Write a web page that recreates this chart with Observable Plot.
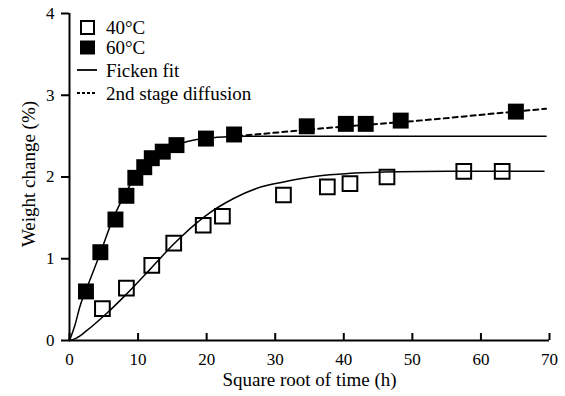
<!DOCTYPE html>
<html><head><meta charset="utf-8">
<script src="https://cdn.jsdelivr.net/npm/d3@7"></script>
<script src="https://cdn.jsdelivr.net/npm/@observablehq/plot@0.6"></script>
<style>
body{margin:0;background:#fff;}
#chart{position:relative;width:565px;height:396px;}
#chart svg text{font-family:"Liberation Serif","Times New Roman",Times,serif !important;}
</style></head><body><div id="chart"></div>
<script>
const x40 = [4.8, 8.3, 12.0, 15.2, 19.5, 22.3, 31.2, 37.6, 40.9, 46.3, 57.5, 63.1];
const y40 = [0.39, 0.64, 0.92, 1.19, 1.41, 1.52, 1.78, 1.88, 1.92, 2.00, 2.07, 2.07];
const x60 = [2.4, 4.5, 6.7, 8.3, 9.6, 10.9, 12.0, 13.6, 15.6, 19.9, 24.0, 34.6, 40.3, 43.2, 48.3, 65.1];
const y60 = [0.60, 1.08, 1.48, 1.77, 1.99, 2.12, 2.23, 2.31, 2.39, 2.47, 2.52, 2.62, 2.65, 2.65, 2.69, 2.80];
// Ficken fit curves
const fit40x = [0, 1, 2.5, 5.4, 8.35, 11.75, 15.2, 19.6, 24, 28, 31.2, 36, 41, 48, 55, 69.2];
const fit40y = [0, 0.03, 0.12, 0.33, 0.57, 0.87, 1.18, 1.51, 1.74, 1.88, 1.94, 2.01, 2.045, 2.065, 2.07, 2.07];
const fit60x = [0, 0.8, 1.5, 2.75, 4.45, 6.4, 8.1, 9.8, 12.2, 15.2, 18, 21.5, 25, 30, 40, 69.5];
const fit60y = [0, 0.19, 0.41, 0.69, 1.06, 1.50, 1.79, 2.03, 2.24, 2.38, 2.45, 2.485, 2.50, 2.50, 2.50, 2.50];
// 2nd stage diffusion (60°C)
const diffx = [24.5, 32.3, 36.2, 51.7, 62.4, 69.5];
const diffy = [2.50, 2.56, 2.59, 2.695, 2.78, 2.835];
// Ticks and labels
const xTicks = [0, 10, 20, 30, 40, 50, 60, 70];
const yTicks = [0, 1, 2, 3, 4];
const xLabel = "Square root of time (h)";
const yLabel = "Weight change (%)";
const legendLabels = ["40°C", "60°C", "Ficken fit", "2nd stage diffusion"];

const zip = (xs, ys) => xs.map((x, i) => ({x, y: ys[i]}));
const d40 = zip(x40, y40), d60 = zip(x60, y60);
const f40 = zip(fit40x, fit40y), f60 = zip(fit60x, fit60y), dif = zip(diffx, diffy);

const FONT = '"Liberation Serif", "Times New Roman", Times, serif';

const chart = Plot.plot({
  width: 565, height: 396,
  marginLeft: 69, marginRight: 16, marginTop: 13, marginBottom: 56,
  style: {fontFamily: FONT, fontSize: "17px", color: "#000", background: "#fff"},
  x: {domain: [0, 70]},
  y: {domain: [0, 4]},
  marks: [
    Plot.axisX(xTicks, {tickSize: -7, tickPadding: 19, strokeWidth: 2, fontSize: 17, fontFamily: FONT, fontVariant: "normal", tickFormat: d => String(d), label: null}),
    Plot.axisY(yTicks, {tickSize: 8, tickPadding: 7, strokeWidth: 2, fontSize: 17, fontFamily: FONT, fontVariant: "normal", tickFormat: d => String(d), label: null}),
    Plot.ruleY([0], {strokeWidth: 2}),
    Plot.ruleX([0], {strokeWidth: 2}),
    Plot.text([xLabel], {frameAnchor: "bottom", dy: 39, fontSize: 19, fontFamily: FONT, lineAnchor: "middle", textAnchor: "middle"}),
    Plot.text([yLabel], {frameAnchor: "left", dx: -41, dy: -3, rotate: -90, fontSize: 19, fontFamily: FONT, lineAnchor: "middle", textAnchor: "middle"}),
    Plot.line(f40, {x: "x", y: "y", curve: "monotone-x", strokeWidth: 1.5}),
    Plot.line(f60, {x: "x", y: "y", curve: "monotone-x", strokeWidth: 1.5}),
    Plot.line(dif, {x: "x", y: "y", curve: "monotone-x", strokeWidth: 2, strokeDasharray: "5,4"}),
    Plot.dot(d40, {x: "x", y: "y", symbol: "square", r: 8.3, stroke: "black", strokeWidth: 2, fill: "none"}),
    Plot.dot(d60, {x: "x", y: "y", symbol: "square", r: 9, fill: "black", stroke: "none"})
  ]
});
document.getElementById("chart").appendChild(chart);

// Legend (inside the plot, top-left)
const svg = d3.select(chart);
const lg = svg.append("g").attr("font-family", FONT).attr("font-size", 19)
  .attr("fill", "black").attr("text-anchor", "start");
const rowsY = [27.5, 47.5, 70, 93];
lg.append("rect").attr("x", 81).attr("y", rowsY[0] - 6.5).attr("width", 13).attr("height", 13)
  .attr("fill", "none").attr("stroke", "black").attr("stroke-width", 2);
lg.append("rect").attr("x", 80).attr("y", rowsY[1] - 7).attr("width", 15).attr("height", 14).attr("fill", "black");
lg.append("line").attr("x1", 77).attr("x2", 97).attr("y1", rowsY[2]).attr("y2", rowsY[2])
  .attr("stroke", "black").attr("stroke-width", 1.8);
lg.append("line").attr("x1", 77).attr("x2", 97).attr("y1", rowsY[3]).attr("y2", rowsY[3])
  .attr("stroke", "black").attr("stroke-width", 1.8).attr("stroke-dasharray", "3,2");
legendLabels.forEach((t, i) => {
  lg.append("text").attr("x", 106).attr("y", rowsY[i]).attr("dy", "0.35em").text(t);
});
</script></body></html>
